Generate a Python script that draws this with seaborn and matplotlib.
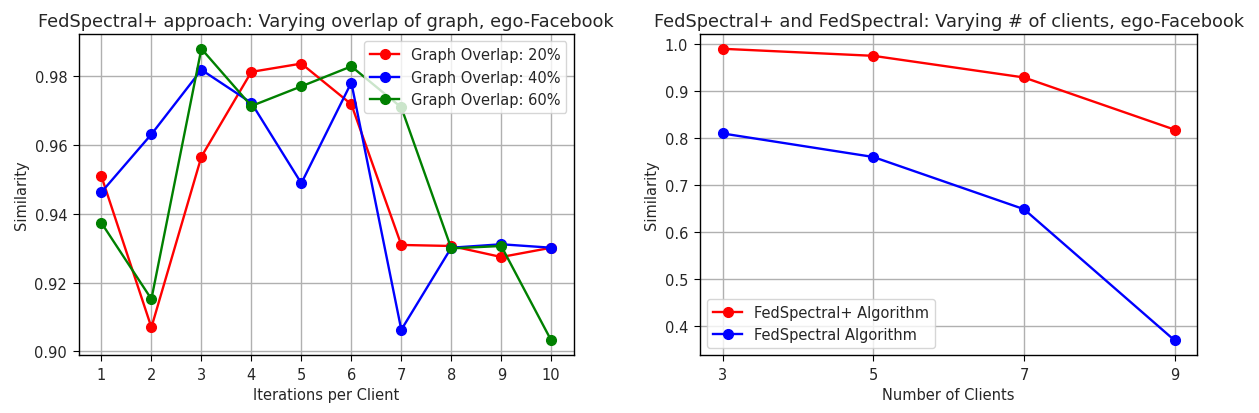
import matplotlib
matplotlib.use("Agg")
import matplotlib.pyplot as plt
import seaborn as sns
import pandas as pd

iterations = [1, 2, 3, 4, 5, 6, 7, 8, 9, 10]
overlap_20 = [0.9508, 0.9070, 0.9565, 0.9811, 0.9835, 0.9717, 0.9309, 0.9306, 0.9274, 0.9301]
overlap_40 = [0.9462, 0.9630, 0.9817, 0.9721, 0.9488, 0.9780, 0.9063, 0.9301, 0.9311, 0.9301]
overlap_60 = [0.9373, 0.9152, 0.9878, 0.9712, 0.9769, 0.9827, 0.9708, 0.9299, 0.9306, 0.9032]
overlap_labels = ["Graph Overlap: 20%", "Graph Overlap: 40%", "Graph Overlap: 60%"]

clients = [3, 5, 7, 9]
fedspectral_plus = [0.990, 0.975, 0.929, 0.818]
fedspectral = [0.810, 0.760, 0.649, 0.370]
client_labels = ["FedSpectral+ Algorithm", "FedSpectral Algorithm"]

plt.rcParams['font.family'] = ['DejaVu Sans']
plt.rcParams['font.size'] = 10.5
plt.rcParams['xtick.major.size'] = 4.5
plt.rcParams['ytick.major.size'] = 4.5
plt.rcParams['xtick.major.pad'] = 4
plt.rcParams['ytick.major.pad'] = 4
plt.rcParams['axes.linewidth'] = 1.0
plt.rcParams['grid.linewidth'] = 1.0
plt.rcParams['text.color'] = '#262626'
plt.rcParams['axes.labelcolor'] = '#262626'
plt.rcParams['xtick.labelcolor'] = '#262626'
plt.rcParams['ytick.labelcolor'] = '#262626'

fig = plt.figure(figsize=(12.59, 4.14), dpi=100)
ax1 = fig.add_axes([0.0627, 0.140, 0.393, 0.775])
ax2 = fig.add_axes([0.556, 0.140, 0.395, 0.775])

for vals, lab, col in zip([overlap_20, overlap_40, overlap_60], overlap_labels, ["red", "blue", "green"]):
    df = pd.DataFrame({"x": iterations, "y": vals})
    sns.lineplot(data=df, x="x", y="y", ax=ax1, color=col, marker="o", markersize=7,
                 markeredgecolor=col, markeredgewidth=1, linewidth=1.7, label=lab)
ax1.set_xticks(iterations)
ax1.set_yticks([0.90, 0.92, 0.94, 0.96, 0.98])
ax1.set_yticklabels(["0.90", "0.92", "0.94", "0.96", "0.98"])
ax1.set_xlabel("Iterations per Client")
ax1.set_ylabel("Similarity")
ax1.set_title("FedSpectral+ approach: Varying overlap of graph, ego-Facebook", fontsize=12.8)
ax1.grid(True)
ax1.legend(loc="upper right")

for vals, lab, col in zip([fedspectral_plus, fedspectral], client_labels, ["red", "blue"]):
    df = pd.DataFrame({"x": clients, "y": vals})
    sns.lineplot(data=df, x="x", y="y", ax=ax2, color=col, marker="o", markersize=7,
                 markeredgecolor=col, markeredgewidth=1, linewidth=1.7, label=lab)
ax2.set_xticks(clients)
ax2.set_yticks([0.4, 0.5, 0.6, 0.7, 0.8, 0.9, 1.0])
ax2.set_xlabel("Number of Clients")
ax2.set_ylabel("Similarity")
ax2.set_title("FedSpectral+ and FedSpectral: Varying # of clients, ego-Facebook", fontsize=12.8)
ax2.grid(True)
ax2.legend(loc="lower left")

fig.savefig("out.png", dpi=100)
